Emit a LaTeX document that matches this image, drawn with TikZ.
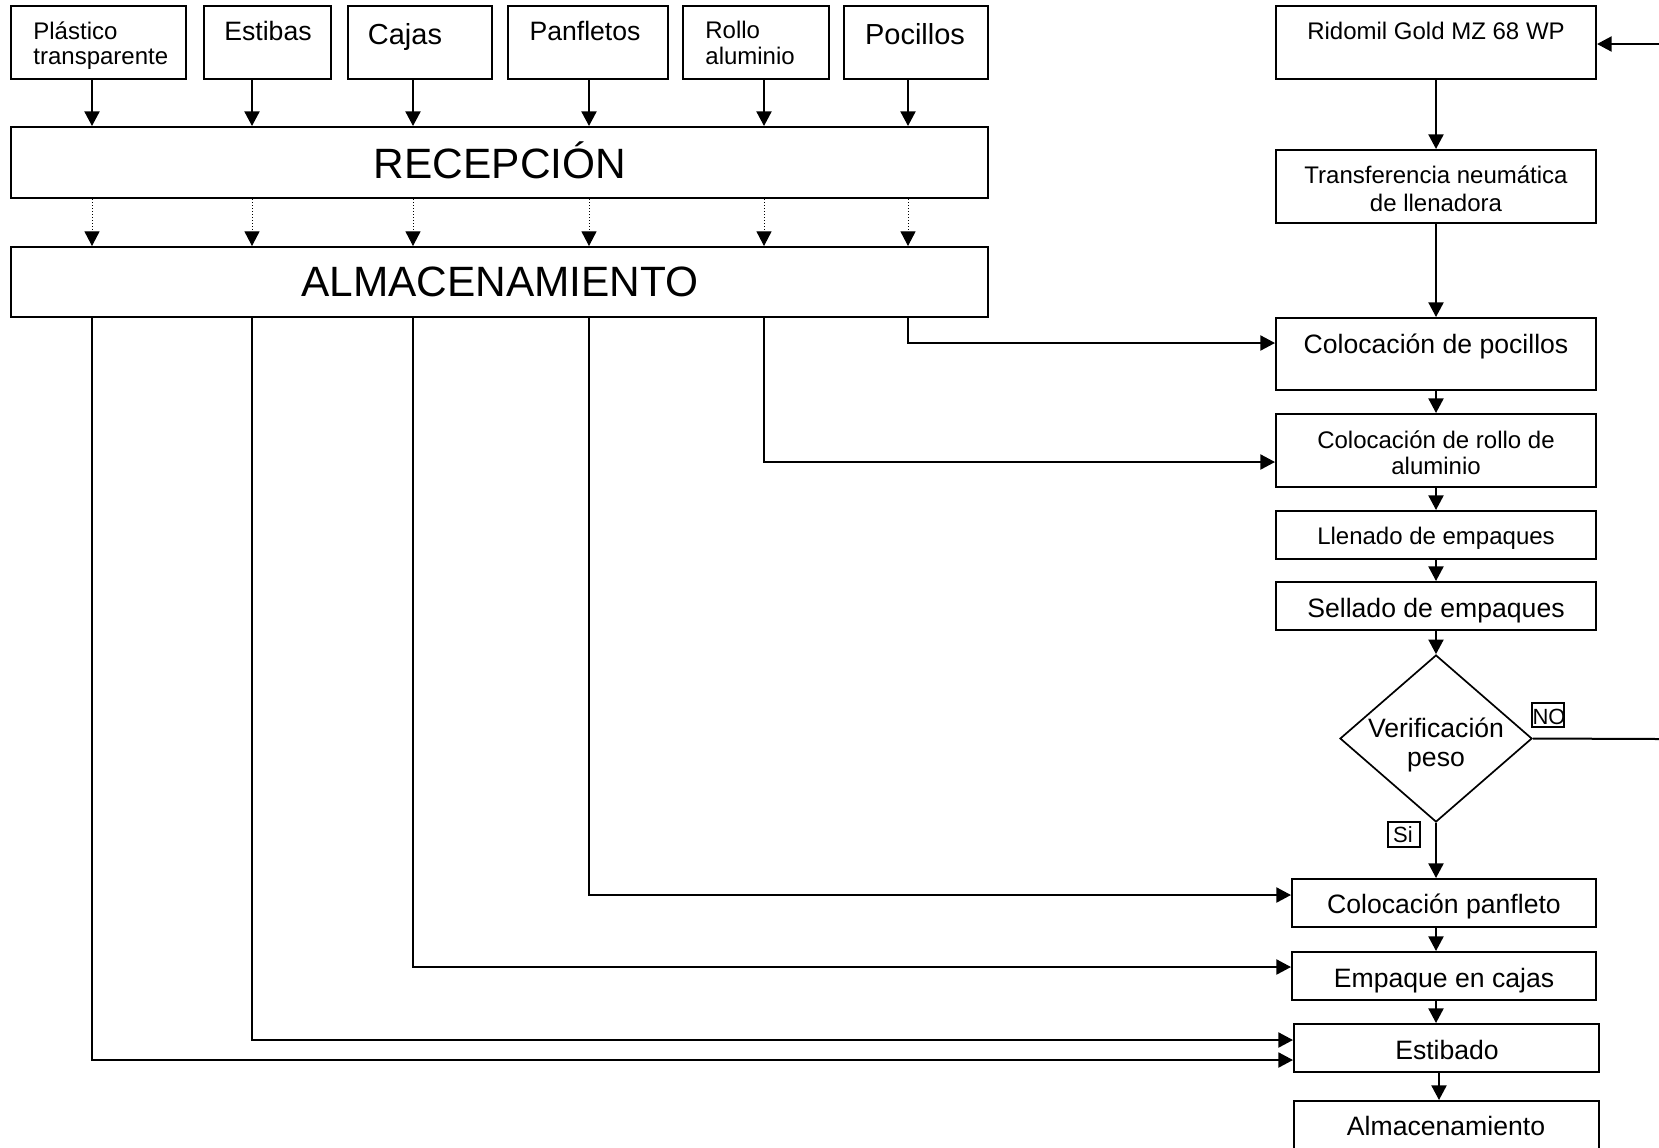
\documentclass[tikz,border=0pt]{standalone}
\usepackage{fontspec}
\setmainfont{Liberation Sans}
\usetikzlibrary{shapes.geometric,arrows.meta}
\begin{document}
\begin{tikzpicture}[x=0.5pt,y=-0.5pt,
  bx/.style={draw, line width=1pt, rectangle, inner sep=0pt},
  lbx/.style={draw, line width=0.7pt, rectangle, inner sep=0pt},
  tx/.style={inner sep=0pt, anchor=base},
  txw/.style={inner sep=0pt, anchor=base west},
  fa/.style={font=\fontsize{12}{14}\selectfont},
  fb/.style={font=\fontsize{13.3}{16}\selectfont},
  fc/.style={font=\fontsize{14.5}{17}\selectfont},
  fd/.style={font=\fontsize{21.2}{25}\selectfont},
  fs/.style={font=\fontsize{11}{13}\selectfont},
  arw/.style={line width=1pt, -{Triangle[length=7.3pt,width=7.5pt]}},
  darw/.style={line width=0.5pt, dash pattern=on 0.6pt off 0.9pt, -{Triangle[length=7.3pt,width=7.5pt]}},
  ln/.style={line width=1pt}
]
\path[use as bounding box] (0,0) rectangle (1659,1147);
\clip (0,0) rectangle (1659,1147);

% column coordinates
\coordinate (c1) at (92,0);
\coordinate (c2) at (252,0);
\coordinate (c3) at (413,0);
\coordinate (c4) at (589,0);
\coordinate (c5) at (764,0);
\coordinate (c6) at (908,0);
\coordinate (rc) at (1436,0);
\coordinate (rc2) at (1439,0);
\coordinate (h6) at (0,343);
\coordinate (h5) at (0,462);
\coordinate (h4) at (0,895);
\coordinate (h3) at (0,967);
\coordinate (h2) at (0,1040);
\coordinate (h1) at (0,1060);
\coordinate (rin) at (1659,44);
\coordinate (nout) at (1659,739);

% top boxes
\node[bx, minimum width=87.5pt, minimum height=36.5pt] (plas) at (98.5,42.5) {};
\node[bx, minimum width=63.5pt, minimum height=36.5pt] (estib) at (267.5,42.5) {};
\node[bx, minimum width=72pt, minimum height=36.5pt] (cajas) at (420,42.5) {};
\node[bx, minimum width=80pt, minimum height=36.5pt] (panf) at (588,42.5) {};
\node[bx, minimum width=73pt, minimum height=36.5pt] (rollo) at (756,42.5) {};
\node[bx, minimum width=72pt, minimum height=36.5pt] (pocil) at (916,42.5) {};

\node[txw, fa] (tplas1) at (33,39) {Plástico};
\node[txw, fa] (tplas2) at (33,64.5) {transparente};
\node[tx, fb] (testib) at (268,40) {Estibas};
\node[tx, fc] (tcajas) at (405,44.5) {Cajas};
\node[tx, fb] (tpanf) at (585,40) {Panfletos};
\node[txw, fa] (trollo1) at (705,38) {Rollo};
\node[txw, fa] (trollo2) at (705,64.5) {aluminio};
\node[tx, fc] (tpocil) at (915,44.5) {Pocillos};

% big boxes
\node[bx, minimum width=488.5pt, minimum height=35.5pt] (recep) at (499.5,162.5) {};
\node[tx, fd] (trecep) at (500,178) {RECEPCIÓN};
\node[bx, minimum width=488.5pt, minimum height=35pt] (almac) at (499.5,282) {};
\node[tx, fd] (talmac) at (500,296) {ALMACENAMIENTO};

% right column
\node[bx, minimum width=160pt, minimum height=36.5pt] (rido) at (1436,42.5) {};
\node[tx, fa] (trido) at (1436,39) {Ridomil Gold MZ 68 WP};
\node[bx, minimum width=160pt, minimum height=36.5pt] (trans) at (1436,186.5) {};
\node[tx, fa] (ttrans1) at (1436,183) {Transferencia neumática};
\node[tx, fa] (ttrans2) at (1436,211) {de llenadora};
\node[bx, minimum width=160pt, minimum height=36pt] (cpoc) at (1436,354) {};
\node[tx, fb] (tcpoc) at (1436,353) {Colocación de pocillos};
\node[bx, minimum width=160pt, minimum height=36.5pt] (croll) at (1436,450.5) {};
\node[tx, fa] (tcroll1) at (1436,448) {Colocación de rollo de};
\node[tx, fa] (tcroll2) at (1436,474) {aluminio};
\node[bx, minimum width=160pt, minimum height=24pt] (llen) at (1436,535) {};
\node[tx, fa] (tllen) at (1436,544) {Llenado de empaques};
\node[bx, minimum width=160pt, minimum height=24pt] (sell) at (1436,606) {};
\node[tx, fb] (tsell) at (1436,617) {Sellado de empaques};
\node[diamond, draw, line width=0.85pt, inner sep=0pt, minimum width=96pt, minimum height=83.5pt] (diam) at (1436,738.5) {};
\node[tx, fb] (tdiam1) at (1436,737) {Verificación};
\node[tx, fb] (tdiam2) at (1436,766) {peso};
\node[lbx, minimum width=16pt, minimum height=12pt] (nobox) at (1548,715) {};
\node[tx, fs] (tno) at (1549,724) {NO};
\node[lbx, minimum width=16pt, minimum height=12.5pt] (sibox) at (1404,834.5) {};
\node[tx, fs] (tsi) at (1403,842.5) {Si};
\node[bx, minimum width=152pt, minimum height=24pt] (cpanf) at (1444,903) {};
\node[tx, fb] (tcpanf) at (1444,913) {Colocación panfleto};
\node[bx, minimum width=152pt, minimum height=24pt] (empq) at (1444,976) {};
\node[tx, fb] (tempq) at (1444,987) {Empaque en cajas};
\node[bx, minimum width=152.5pt, minimum height=24pt] (estbd) at (1446.5,1048) {};
\node[tx, fb] (testbd) at (1447,1059) {Estibado};
\node[bx, minimum width=152.5pt, minimum height=39.5pt] (almf) at (1446.5,1140.5) {};
\node[tx, fb] (talmf) at (1446,1135) {Almacenamiento};

% arrows top boxes -> recepcion
\draw[arw] (plas.south -| c1) -- (recep.north -| c1);
\draw[arw] (estib.south -| c2) -- (recep.north -| c2);
\draw[arw] (cajas.south -| c3) -- (recep.north -| c3);
\draw[arw] (panf.south -| c4) -- (recep.north -| c4);
\draw[arw] (rollo.south -| c5) -- (recep.north -| c5);
\draw[arw] (pocil.south -| c6) -- (recep.north -| c6);

% dotted recepcion -> almacenamiento
\foreach \c in {c1,c2,c3,c4,c5,c6}
  \draw[darw] (recep.south -| \c) -- (almac.north -| \c);

% almacenamiento -> right column
\draw[arw] (almac.south -| c6) |- (cpoc.west |- h6);
\draw[arw] (almac.south -| c5) |- (croll.west |- h5);
\draw[arw] (almac.south -| c4) |- (cpanf.west |- h4);
\draw[arw] (almac.south -| c3) |- (empq.west |- h3);
\draw[arw] (almac.south -| c2) |- (estbd.west |- h2);
\draw[arw] (almac.south -| c1) |- (estbd.west |- h1);

% right column flow
\draw[arw] (rin) -- (rido.east |- rin);
\draw[arw] (rido.south -| rc) -- (trans.north -| rc);
\draw[arw] (trans.south -| rc) -- (cpoc.north -| rc);
\draw[arw] (cpoc.south -| rc) -- (croll.north -| rc);
\draw[arw] (croll.south -| rc) -- (llen.north -| rc);
\draw[arw] (llen.south -| rc) -- (sell.north -| rc);
\draw[arw] (sell.south -| rc) -- (diam.north);
\draw[arw] (diam.south) -- (cpanf.north -| diam.south);
\draw[ln] (diam.east) -- (nout);
\draw[arw] (cpanf.south -| rc) -- (empq.north -| rc);
\draw[arw] (empq.south -| rc) -- (estbd.north -| rc);
\draw[arw] (estbd.south -| rc2) -- (almf.north -| rc2);
\end{tikzpicture}
\end{document}
